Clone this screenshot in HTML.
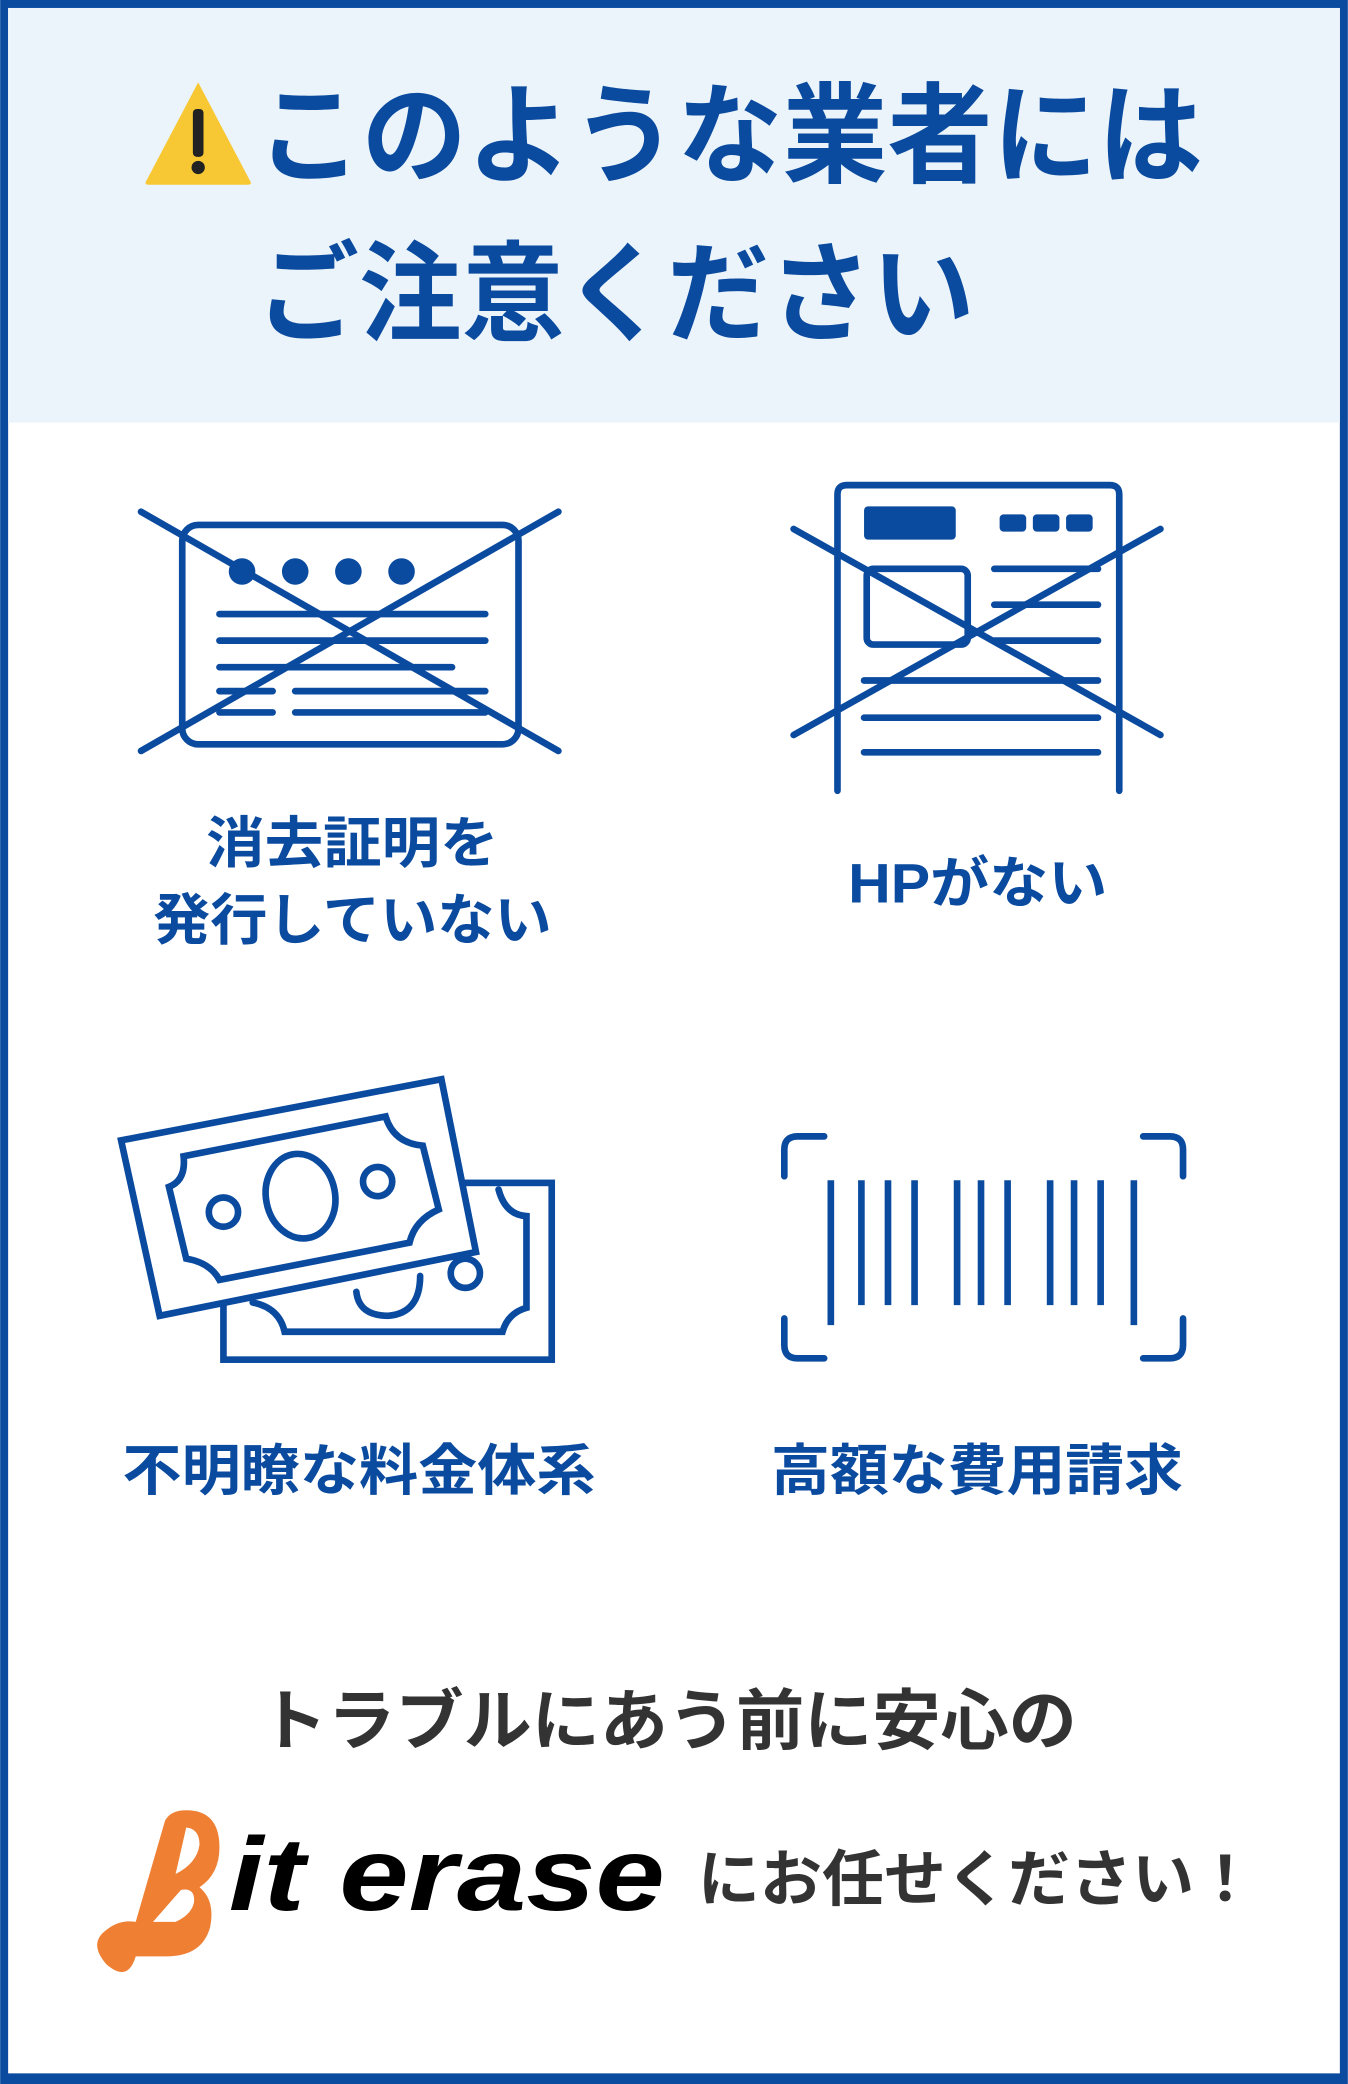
<!DOCTYPE html>
<html><head><meta charset="utf-8"><style>
html,body{margin:0;padding:0;background:#fff}
svg{display:block}
text{font-family:"Liberation Sans","Noto Sans CJK JP",sans-serif;font-weight:bold}
</style></head><body>
<svg width="1348" height="2084" viewBox="0 0 1014 1568" xmlns="http://www.w3.org/2000/svg">
<rect x="0" y="0" width="1014" height="1568" fill="#0a4a9f"/>
<rect x="6" y="6" width="1002" height="1554" fill="#fff"/>
<rect x="6" y="6" width="1002" height="312" fill="#ebf4fb"/>
<path d="M149 62 L188 136 Q190 139 186 139 L112 139 Q108 139 110 136 Z" fill="#f7c833"/>
<rect x="145" y="82" width="8" height="36" rx="3" fill="#222"/>
<circle cx="149" cy="126" r="5" fill="#222"/>
<text x="193" y="131" font-size="82" fill="#0a4a9f" textLength="712" lengthAdjust="spacingAndGlyphs">このような業者には</text>
<text x="193" y="250" font-size="82" fill="#0a4a9f" textLength="540" lengthAdjust="spacingAndGlyphs">ご注意ください</text>
<g fill="none" stroke="#0a4a9f" stroke-width="5" stroke-linecap="round">
<rect x="137" y="395" width="253" height="165" rx="12"/>
<line x1="165" y1="462" x2="365" y2="462"/><line x1="165" y1="482" x2="365" y2="482"/>
<line x1="165" y1="502" x2="340" y2="502"/><line x1="165" y1="520" x2="205" y2="520"/>
<line x1="222" y1="520" x2="365" y2="520"/><line x1="165" y1="536" x2="205" y2="536"/>
<line x1="222" y1="536" x2="365" y2="536"/>
<line x1="106" y1="385" x2="420" y2="565"/><line x1="106" y1="565" x2="420" y2="385"/>
<path d="M630 595 V372 Q630 365 637 365 H835 Q842 365 842 372 V595"/>
<rect x="652" y="428" width="76" height="57" rx="5"/>
<line x1="748" y1="428" x2="826" y2="428"/><line x1="748" y1="455" x2="826" y2="455"/>
<line x1="748" y1="482" x2="826" y2="482"/>
<line x1="650" y1="512" x2="826" y2="512"/><line x1="650" y1="540" x2="826" y2="540"/>
<line x1="650" y1="566" x2="826" y2="566"/>
<line x1="597" y1="398" x2="873" y2="553"/><line x1="597" y1="553" x2="873" y2="398"/>
<rect x="168" y="890" width="247" height="133"/>
<path d="M190 980 Q210 984 214 1002 H378 Q382 988 396 984 V915 Q380 914 375 895"/>
<path d="M268 972 Q270 990 292 990 Q316 988 316 960"/>
<circle cx="350" cy="958" r="11"/>
<path d="M358 942 L120 990 L91 858 L332 812 Z" fill="#fff"/>
<path d="M138 870 L290 840 Q296 860 318 862 L330 910 Q312 918 308 935 L165 963 Q158 950 140 947 L127 893 Q140 888 138 870 Z"/>
<ellipse cx="226" cy="900" rx="26" ry="32" transform="rotate(-11 226 900)"/>
<circle cx="168" cy="912" r="11"/><circle cx="284" cy="889" r="11"/>
<path d="M620 855 H600 Q590 855 590 865 V885"/>
<path d="M860 855 H880 Q890 855 890 865 V885"/>
<path d="M620 1022 H600 Q590 1022 590 1012 V992"/>
<path d="M860 1022 H880 Q890 1022 890 1012 V992"/>
</g>
<g stroke="#0a4a9f" stroke-width="5">
<line x1="625" y1="888" x2="625" y2="997"/><line x1="648" y1="888" x2="648" y2="982"/>
<line x1="668" y1="888" x2="668" y2="982"/><line x1="688" y1="888" x2="688" y2="982"/>
<line x1="720" y1="888" x2="720" y2="982"/><line x1="738" y1="888" x2="738" y2="982"/>
<line x1="758" y1="888" x2="758" y2="982"/><line x1="790" y1="888" x2="790" y2="982"/>
<line x1="808" y1="888" x2="808" y2="982"/><line x1="828" y1="888" x2="828" y2="982"/>
<line x1="853" y1="888" x2="853" y2="997"/>
</g>
<g fill="#0a4a9f">
<circle cx="182" cy="430" r="10"/><circle cx="222" cy="430" r="10"/>
<circle cx="262" cy="430" r="10"/><circle cx="302" cy="430" r="10"/>
<rect x="650" y="381" width="69" height="25" rx="3"/>
<rect x="752" y="387" width="20" height="13" rx="3"/><rect x="777" y="387" width="20" height="13" rx="3"/><rect x="802" y="387" width="20" height="13" rx="3"/>
</g>
<g font-size="42" fill="#0a4a9f">
<text x="155" y="649" textLength="220" lengthAdjust="spacingAndGlyphs">消去証明を</text>
<text x="115" y="707" textLength="300" lengthAdjust="spacingAndGlyphs">発行していない</text>
<text x="638" y="679" textLength="195" lengthAdjust="spacingAndGlyphs">HPがない</text>
<text x="92" y="1121" textLength="356" lengthAdjust="spacingAndGlyphs">不明瞭な料金体系</text>
<text x="580" y="1121" textLength="310" lengthAdjust="spacingAndGlyphs">高額な費用請求</text>
</g>
<text x="195" y="1312" font-size="50" fill="#333" textLength="615" lengthAdjust="spacingAndGlyphs">トラブルにあう前に安心の</text>
<path d="M124 1370 Q128 1362 140 1362 Q165 1362 165 1390 Q165 1410 150 1420 Q162 1430 158 1450 Q152 1472 125 1472 L102 1472 Q96 1492 80 1478 Q66 1462 80 1452 Q90 1444 102 1446 Z M115 1446 L132 1446 Q145 1440 146 1430 Q146 1420 136 1422 Z M140 1375 L132 1410 Q148 1402 150 1388 Q150 1376 140 1375 Z" fill="#ee7f33"/>
<text x="172" y="1437" font-size="78" fill="#000" font-style="italic" textLength="328" lengthAdjust="spacingAndGlyphs">it erase</text>
<text x="525" y="1430" font-size="46" fill="#333" textLength="420" lengthAdjust="spacingAndGlyphs">にお任せください！</text>
</svg>
</body></html>
